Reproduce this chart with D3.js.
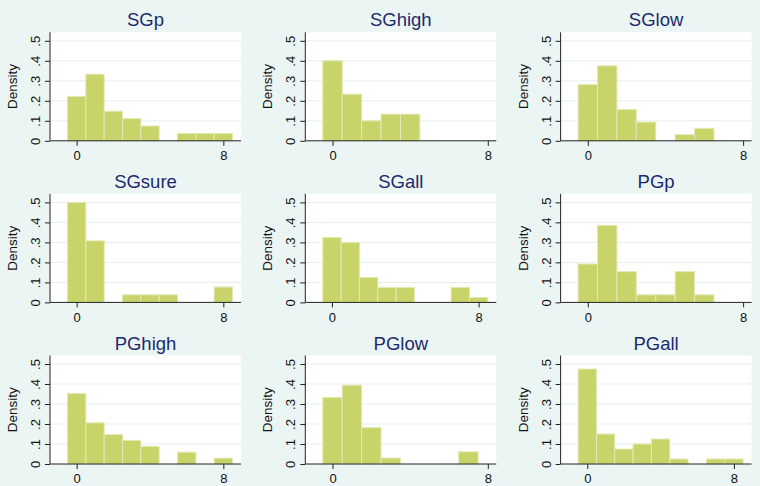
<!DOCTYPE html>
<html>
<head>
<meta charset="utf-8">
<script src="https://cdn.jsdelivr.net/npm/d3@7"></script>
<style>
  html, body { margin: 0; padding: 0; background: #ebf5f3; }
  svg { display: block; }
</style>
</head>
<body>
<svg id="chart" width="760" height="486"></svg>
<script>
// ---- DATA ----
const titles = ["SGp", "SGhigh", "SGlow", "SGsure", "SGall", "PGp", "PGhigh", "PGlow", "PGall"];
const bins = [0, 1, 2, 3, 4, 5, 6, 7, 8];            // bin centres (width 1)
const SGp    = [0.222, 0.333, 0.148, 0.111, 0.074, 0, 0.037, 0.037, 0.037];
const SGhigh = [0.400, 0.233, 0.100, 0.133, 0.133, 0, 0, 0, 0];
const SGlow  = [0.281, 0.375, 0.156, 0.094, 0, 0.031, 0.0625, 0, 0];
const SGsure = [0.500, 0.308, 0, 0.038, 0.038, 0.038, 0, 0, 0.077];
const SGall  = [0.325, 0.300, 0.125, 0.075, 0.075, 0, 0, 0.075, 0.025];
const PGp    = [0.192, 0.385, 0.154, 0.038, 0.038, 0.154, 0.038, 0, 0];
const PGhigh = [0.353, 0.206, 0.147, 0.118, 0.088, 0, 0.059, 0, 0.029];
const PGlow  = [0.333, 0.394, 0.182, 0.030, 0, 0, 0, 0.061, 0];
const PGall  = [0.475, 0.150, 0.075, 0.100, 0.125, 0.025, 0, 0.025, 0.025];
const seriesList = [SGp, SGhigh, SGlow, SGsure, SGall, PGp, PGhigh, PGlow, PGall];
const yTickValues = [0, 0.1, 0.2, 0.3, 0.4, 0.5];
const yTickLabels = ["0", ".1", ".2", ".3", ".4", ".5"];
const xTickValues = [0, 8];
const xTickLabels = ["0", "8"];
const yAxisTitle = "Density";

// ---- LAYOUT ----
const svg = d3.select("#chart");
const FONT = "'Liberation Sans', Arial, Helvetica, sans-serif";
const colStep = 255.3, rowStep = 161.6;
const axisX0 = 50, zero0 = 140.8;
const plotW = 191, plotH = 108.5;
const padL = 17.5, padR = 8.5;
const barFill = "#c8d36a", barStroke = "#e3e9b4";
const titleColor = "#1b2a6e";

svg.append("rect").attr("width", 760).attr("height", 486).attr("fill", "#ebf5f3");

seriesList.forEach((vals, k) => {
  const c = k % 3, r = Math.floor(k / 3);
  const ax = axisX0 + colStep * c;
  const z = zero0 + rowStep * r;
  const top = z - plotH;
  const right = ax + plotW;

  // data extent in x
  let lastIdx = 0;
  vals.forEach((v, i) => { if (v > 0) lastIdx = i; });
  const xMax = Math.max(d3.max(xTickValues), bins[lastIdx] + 0.5);
  const x = d3.scaleLinear().domain([-0.5, xMax]).range([ax + padL, right - padR]);
  const y = d3.scaleLinear().domain([0, 0.5]).range([z, z - 100]);

  const g = svg.append("g");

  // plot region
  g.append("rect").attr("x", ax).attr("y", top).attr("width", plotW).attr("height", plotH)
    .attr("fill", "#ffffff");

  // gridlines
  g.selectAll("line.grid").data(yTickValues.filter(d => d > 0)).enter().append("line")
    .attr("x1", ax).attr("x2", right)
    .attr("y1", d => y(d)).attr("y2", d => y(d))
    .attr("stroke", "#e6eeee").attr("stroke-width", 1);

  // bars
  const data = bins.map((b, i) => ({ b, v: vals[i] })).filter(d => d.v > 0);
  g.selectAll("rect.bar").data(data).enter().append("rect")
    .attr("x", d => x(d.b - 0.5))
    .attr("width", d => x(d.b + 0.5) - x(d.b - 0.5))
    .attr("y", d => y(d.v))
    .attr("height", d => y(0) - y(d.v))
    .attr("fill", barFill)
    .attr("stroke", barStroke)
    .attr("stroke-width", 1);

  // y axis
  const yAxis = d3.axisLeft(y).tickValues(yTickValues)
    .tickFormat((d, i) => yTickLabels[i]).tickSize(5).tickSizeOuter(0);
  const yg = g.append("g").attr("transform", `translate(${ax},0)`).call(yAxis);
  yg.select(".domain").remove();
  yg.selectAll(".tick line").attr("stroke", "#222");
  yg.selectAll(".tick text")
    .attr("x", null).attr("dy", null)
    .attr("transform", "translate(-10,0) rotate(-90)")
    .attr("text-anchor", "middle")
    .attr("font-family", FONT).attr("font-size", 13).attr("fill", "#111");
  g.append("line").attr("x1", ax).attr("x2", ax).attr("y1", top).attr("y2", z)
    .attr("stroke", "#222").attr("stroke-width", 1);

  // x axis
  const xAxis = d3.axisBottom(x).tickValues(xTickValues)
    .tickFormat((d, i) => xTickLabels[i]).tickSize(5).tickPadding(5).tickSizeOuter(0);
  const xg = g.append("g").attr("transform", `translate(0,${z})`).call(xAxis);
  xg.select(".domain").remove();
  xg.selectAll(".tick line").attr("stroke", "#222");
  xg.selectAll(".tick text").attr("font-family", FONT).attr("font-size", 13).attr("fill", "#111");
  g.append("line").attr("x1", ax).attr("x2", right).attr("y1", z).attr("y2", z)
    .attr("stroke", "#222").attr("stroke-width", 1);

  // y axis title
  g.append("text")
    .attr("transform", `translate(${ax - 33},${(top + z) / 2}) rotate(-90)`)
    .attr("text-anchor", "middle")
    .attr("font-family", FONT).attr("font-size", 13.5).attr("fill", "#111")
    .text(yAxisTitle);

  // panel title
  g.append("text")
    .attr("x", (ax + right) / 2).attr("y", top - 6)
    .attr("text-anchor", "middle")
    .attr("font-family", FONT).attr("font-size", 18.5).attr("fill", titleColor)
    .text(titles[k]);
});
</script>
</body>
</html>
